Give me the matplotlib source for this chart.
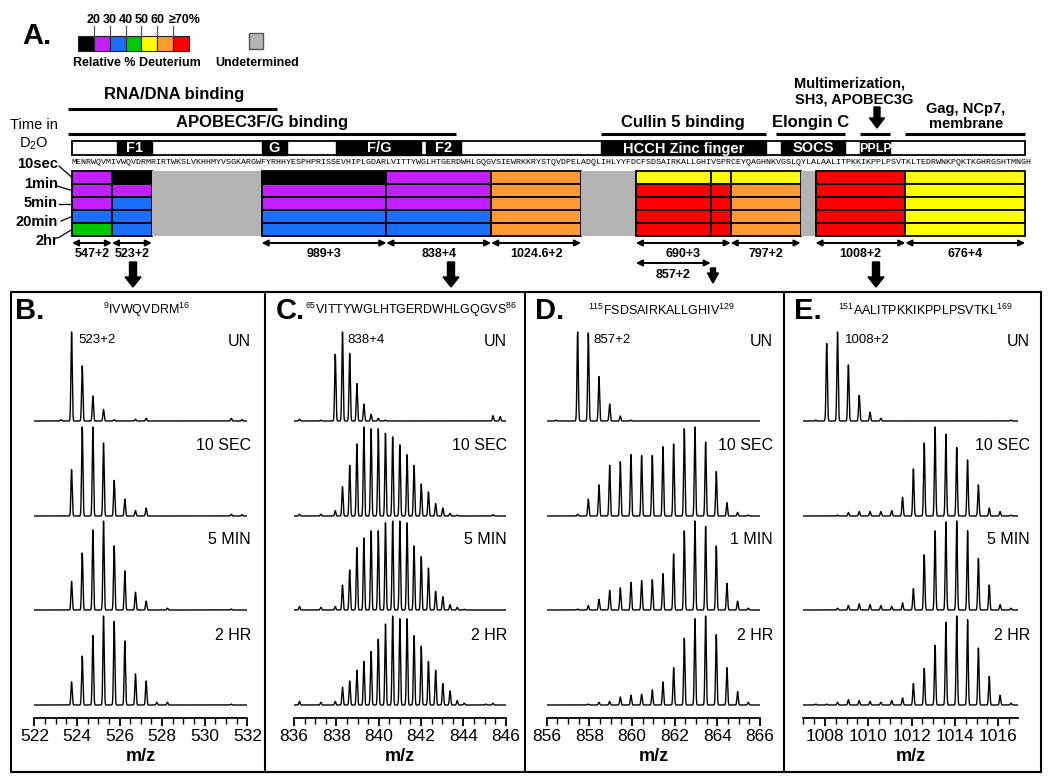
import numpy as np
import matplotlib
matplotlib.use('Agg')
import matplotlib.pyplot as plt
from matplotlib.patches import Rectangle, FancyArrow

plt.rcParams['font.family'] = ['Liberation Sans', 'DejaVu Sans']
plt.rcParams['mathtext.fontset'] = 'custom'
plt.rcParams['mathtext.rm'] = 'Liberation Sans'

# ---------------- data ----------------
sequence = ("MENRWQVMIVWQVDRMRIRTWKSLVKHHMYVSGKARGWFYRHHYESPHPRISSEVHIPLGDARL"
            "VITTYWGLHTGERDWHLGQGVSIEWRKKRYSTQVDPELADQLIHLYYFDCFSDSAIRKALLGHIVS"
            "PRCEYQAGHNKVGSLQYLALAALITPKKIKPPLPSVTKLTEDRWNKPQKTKGHRGSHTMNGH")

level_colors = ['#000000', '#C21EFF', '#1C6EFF', '#00C800', '#FFFF00', '#FF9A33', '#FF0000']
level_ticks = ['20', '30', '40', '50', '60', '≥70%']
undet_color = '#B3B3B3'

times = ['10sec', '1min', '5min', '20min', '2hr']

# heatmap blocks: residue range and deuterium level per time (None = undetermined)
blk_start = [1, 9, 17, 39, 64, 85, 103, 114, 129, 133, 147, 150, 168]
blk_end = [8, 16, 38, 63, 84, 102, 113, 128, 132, 146, 149, 167, 191]
blk_levels = [
    [1, 1, 1, 2, 3],
    [0, 1, 2, 2, 2],
    None,
    [0, 1, 1, 2, 2],
    [1, 1, 1, 2, 2],
    [5, 5, 5, 5, 5],
    None,
    [4, 6, 6, 6, 6],
    [4, 6, 6, 6, 6],
    [4, 5, 5, 5, 5],
    None,
    [6, 6, 6, 6, 6],
    [4, 4, 4, 4, 4],
]

pep_labels = ['547+2', '523+2', '989+3', '838+4', '1024.6+2', '690+3', '797+2', '1008+2', '676+4']
pep_start = [1, 9, 39, 64, 85, 114, 133, 150, 168]
pep_end = [8, 16, 63, 84, 102, 132, 146, 167, 191]

dom_names = ['F1', 'G', 'F/G', 'F2', 'HCCH Zinc finger', 'SOCS', 'PPLP']
dom_start = [10, 39, 54, 72, 107, 143, 159]
dom_end = [16, 43, 70, 78, 139, 155, 164]

func_names = ['APOBEC3F/G binding', 'Cullin 5 binding', 'Elongin C']
func_start = [1, 107, 142]
func_end = [77, 139, 155]

# spectra: peak m/z and relative heights
b_mz = [523.25, 523.75, 524.25, 524.75, 525.25, 525.75, 526.25, 526.75, 527.25, 527.75, 528.25, 531.25, 531.75]
b_un = [0.015, 1.0, 0.62, 0.28, 0.13, 0.015, 0.0, 0.02, 0.03, 0, 0, 0.03, 0.015]
b_10s = [0, 0.52, 1.0, 1.0, 0.82, 0.40, 0.19, 0.06, 0.09, 0, 0, 0.02, 0.015]
b_5m = [0, 0.32, 0.64, 0.90, 1.0, 0.72, 0.44, 0.20, 0.10, 0, 0.02, 0.01, 0]
b_2h = [0, 0.26, 0.55, 0.78, 1.0, 0.94, 0.72, 0.35, 0.27, 0.03, 0.03, 0.01, 0]

c_mz = [836.26, 836.60, 836.93, 837.27, 837.61, 837.95, 838.29, 838.63, 838.97, 839.30,
        839.64, 839.98, 840.32, 840.66, 841.00, 841.34, 841.67, 842.01, 842.35, 842.69,
        843.03, 843.37, 843.71, 844.04, 844.38, 844.72, 845.06, 845.40, 845.74]
c_un = [0.02, 0, 0, 0.01, 0, 0.75, 1.0, 0.76, 0.42, 0.19, 0.075, 0.03, 0.01, 0, 0,
        0, 0, 0, 0, 0, 0, 0, 0, 0, 0, 0, 0, 0.06, 0.05]
c_10s = [0.02, 0, 0, 0.02, 0, 0.06, 0.33, 0.57, 0.81, 1.0, 0.98, 0.98, 0.93, 0.89, 0.80,
         0.69, 0.57, 0.36, 0.27, 0.14, 0.09, 0.03, 0.01, 0, 0, 0, 0, 0.015, 0]
c_5m = [0.04, 0, 0, 0.03, 0, 0.04, 0.28, 0.45, 0.70, 0.81, 0.89, 0.89, 0.98, 1.0, 1.0,
        0.98, 0.72, 0.60, 0.47, 0.21, 0.15, 0.06, 0.03, 0.01, 0, 0, 0, 0, 0]
c_2h = [0.04, 0, 0, 0.03, 0, 0.04, 0.20, 0.27, 0.39, 0.49, 0.60, 0.74, 0.91, 1.0, 0.97,
        0.97, 0.78, 0.66, 0.49, 0.39, 0.24, 0.16, 0.05, 0.02, 0, 0, 0.01, 0.02, 0]

d_mz = [856.45, 856.95, 857.45, 857.95, 858.45, 858.95, 859.45, 859.95, 860.45, 860.95,
        861.45, 861.95, 862.45, 862.95, 863.45, 863.95, 864.45, 864.95, 865.45]
d_un = [0.01, 0, 1.0, 0.99, 0.50, 0.19, 0.056, 0.01, 0, 0, 0, 0, 0, 0, 0, 0, 0, 0, 0]
d_10s = [0, 0, 0.02, 0.19, 0.35, 0.57, 0.61, 0.69, 0.68, 0.68, 0.78, 0.81, 0.98, 1.0,
         0.83, 0.50, 0.15, 0.04, 0.01]
d_1m = [0, 0, 0.01, 0.05, 0.12, 0.22, 0.25, 0.31, 0.33, 0.34, 0.41, 0.63, 0.89, 1.0,
        0.94, 0.72, 0.30, 0.10, 0.02]
d_2h = [0, 0, 0, 0.01, 0.03, 0.04, 0.09, 0.11, 0.12, 0.17, 0.26, 0.42, 0.75, 0.97,
        1.0, 0.79, 0.42, 0.15, 0.03]

e_mz = [1007.58, 1008.08, 1008.58, 1009.08, 1009.58, 1010.08, 1010.58, 1011.08, 1011.58,
        1012.08, 1012.58, 1013.08, 1013.58, 1014.08, 1014.58, 1015.08, 1015.58, 1016.08, 1016.58]
e_un = [0.01, 0.87, 1.0, 0.63, 0.29, 0.10, 0.03, 0, 0, 0, 0, 0, 0, 0, 0, 0, 0, 0, 0.01]
e_10s = [0, 0, 0.01, 0.04, 0.05, 0.05, 0.05, 0.06, 0.21, 0.53, 0.82, 1.0, 0.92, 0.77,
         0.63, 0.35, 0.09, 0.05, 0.01]
e_5m = [0, 0, 0.02, 0.05, 0.07, 0.06, 0.05, 0.04, 0.08, 0.24, 0.62, 0.89, 0.99, 1.0,
        0.89, 0.58, 0.28, 0.06, 0.02]
e_2h = [0.01, 0.01, 0.03, 0.06, 0.05, 0.04, 0.03, 0.05, 0.08, 0.24, 0.41, 0.67, 0.93,
        1.0, 0.96, 0.64, 0.32, 0.11, 0.02]

# ---------------- figure ----------------
fig = plt.figure(figsize=(10.5, 7.83), dpi=100)
ax = fig.add_axes([0, 0, 1, 1])
ax.set_xlim(0, 1050)
ax.set_ylim(783, 0)
ax.axis('off')

X0, W = 72, 4.99


def rx0(r):
    return X0 + (r - 1) * W


def rx1(r):
    return X0 + r * W


# legend
ax.text(22, 36, 'A.', fontsize=21, fontweight='bold', va='center', ha='left')
lx, ly, cw, ch = 78, 36, 15.86, 15
for i, c in enumerate(level_colors):
    ax.add_patch(Rectangle((lx + i * cw, ly), cw, ch, fc=c, ec='#222222', lw=0.8))
for i, t in enumerate(level_ticks):
    bx = lx + (i + 1) * cw
    ax.plot([bx, bx], [26, ly], color='#555555', lw=0.9)
    if i == len(level_ticks) - 1:
        ax.text(bx - 4, 20, t, fontsize=9, fontweight='bold', ha='left', va='center')
    else:
        ax.text(bx, 20, t, fontsize=9, fontweight='bold', ha='center', va='center')
ax.text(137, 63, 'Relative % Deuterium', fontsize=9, fontweight='bold', ha='center', va='center')
ax.add_patch(Rectangle((249, 33), 14, 16, fc=undet_color, ec='#555555', lw=1))
ax.text(257, 63, 'Undetermined', fontsize=9, fontweight='bold', ha='center', va='center')

# functional regions
ax.text((rx0(1) + rx1(41)) / 2, 95, 'RNA/DNA binding', fontsize=12, fontweight='bold', ha='center', va='center')
ax.plot([68, rx1(41)], [109, 109], color='k', lw=2.2, solid_capstyle='butt')
for name, s, e in zip(func_names, func_start, func_end):
    x_a = 68 if s == 1 else rx0(s)
    ax.plot([x_a, rx1(e)], [134, 134], color='k', lw=2.2, solid_capstyle='butt')
    ax.text((x_a + rx1(e)) / 2, 123, name, fontsize=12, fontweight='bold', ha='center', va='center')
ax.text(850, 83, 'Multimerization,', fontsize=10.5, fontweight='bold', ha='center', va='center')
ax.text(854, 100, 'SH3, APOBEC3G', fontsize=10.5, fontweight='bold', ha='center', va='center')
ax.add_patch(FancyArrow(877, 107, 0, 21, width=6, head_width=15, head_length=10,
                        length_includes_head=True, color='k'))
ax.plot([rx0(159), rx1(164)], [134, 134], color='k', lw=2.2, solid_capstyle='butt')
ax.text(966, 109, 'Gag, NCp7,', fontsize=10.5, fontweight='bold', ha='center', va='center')
ax.text(966, 124, 'membrane', fontsize=10.5, fontweight='bold', ha='center', va='center')
ax.plot([rx0(168), rx1(191)], [134, 134], color='k', lw=2.2, solid_capstyle='butt')

# domain bar
ax.text(34, 125, 'Time in', fontsize=10.5, ha='center', va='center')
ax.text(34, 144, r'D$_{\mathrm{2}}$O', fontsize=10.5, ha='center', va='center')
ax.add_patch(Rectangle((X0, 141), rx1(191) - X0, 14, fc='white', ec='k', lw=1.3))
for name, s, e in zip(dom_names, dom_start, dom_end):
    ax.add_patch(Rectangle((rx0(s), 141), rx1(e) - rx0(s), 14, fc='k', ec='k', lw=1.0))
    fs = 9 if name == 'PPLP' else 10.5
    ax.text((rx0(s) + rx1(e)) / 2, 148.5, name, color='white', fontsize=fs,
            fontweight='bold', ha='center', va='center')

ax.text(X0, 162, sequence, family='Liberation Mono', fontsize=5.99, ha='left', va='center')

# heatmap
row_top, row_h = 171, 13
for s, e, lev in zip(blk_start, blk_end, blk_levels):
    x_a, x_b = rx0(s), rx1(e)
    if lev is None:
        ax.add_patch(Rectangle((x_a, row_top), x_b - x_a, row_h * 5, fc=undet_color, ec='none'))
        continue
    for j, lv in enumerate(lev):
        ax.add_patch(Rectangle((x_a, row_top + j * row_h), x_b - x_a, row_h,
                               fc=level_colors[lv], ec='k', lw=1.3))

# time labels with leader lines
lab_y = [164, 184, 203, 222, 241]
lead_from = [(59, 166), (57, 186), (59, 203.5), (61, 221), (58, 238)]
for j, t in enumerate(times):
    ax.text(58, lab_y[j], t, fontsize=10.5, fontweight='bold', ha='right', va='center')
    ax.plot([lead_from[j][0], X0], [lead_from[j][1], row_top + (j + 0.5) * row_h], color='k', lw=0.9)

# peptide arrows
arr = dict(arrowstyle='<|-|>', lw=1.4, color='k', mutation_scale=9, shrinkA=0, shrinkB=0)
for lab, s, e in zip(pep_labels, pep_start, pep_end):
    ax.annotate('', xy=(rx1(e), 243), xytext=(rx0(s), 243), arrowprops=arr)
    ax.text((rx0(s) + rx1(e)) / 2, 254, lab, fontsize=9, fontweight='bold', ha='center', va='center')
ax.annotate('', xy=(rx1(128), 263), xytext=(rx0(114), 263), arrowprops=arr)
ax.text((rx0(114) + rx1(128)) / 2, 275, '857+2', fontsize=9, fontweight='bold', ha='center', va='center')

for xa, y_a, ln, wd, hw in [(133, 262, 25, 7, 16), (451, 262, 25, 7, 16),
                            (713, 268, 15, 5, 11), (876, 262, 25, 7, 16)]:
    ax.add_patch(FancyArrow(xa, y_a, 0, ln, width=wd, head_width=hw, head_length=10,
                            length_includes_head=True, color='k'))

# panel boxes
ax.add_patch(Rectangle((11, 292), 1030, 480, fc='none', ec='k', lw=1.5))
for xv in [265, 525, 784]:
    ax.plot([xv, xv], [292, 772], color='k', lw=1.5)

# spectra panels
panels = [
    ('B.', r'$^{\mathrm{9}}$IVWQVDRM$^{\mathrm{16}}$', '523+2', (522, 532), 34.3, 21.3,
     b_mz, [b_un, b_10s, b_5m, b_2h], ['UN', '10 SEC', '5 MIN', '2 HR'], 15, 103, 78, 251),
    ('C.', r'$^{\mathrm{65}}$VITTYWGLHTGERDWHLGQGVS$^{\mathrm{86}}$', '838+4', (836, 846), 294.0, 21.17,
     c_mz, [c_un, c_10s, c_5m, c_2h], ['UN', '10 SEC', '5 MIN', '2 HR'], 276, 305, 347, 507),
    ('D.', r'$^{\mathrm{115}}$FSDSAIRKALLGHIV$^{\mathrm{129}}$', '857+2', (856, 866), 546.7, 21.33,
     d_mz, [d_un, d_10s, d_1m, d_2h], ['UN', '10 SEC', '1 MIN', '2 HR'], 535, 588, 593, 773),
    ('E.', r'$^{\mathrm{151}}$AALITPKKIKPPLPSVTKL$^{\mathrm{169}}$', '1008+2', (1007, 1016.9), 803.3, 21.67,
     e_mz, [e_un, e_10s, e_5m, e_2h], ['UN', '10 SEC', '5 MIN', '2 HR'], 794, 838, 845, 1030),
]
bases = [297, 202, 108, 13]
label_y = [342, 446, 540, 635]
for (let, title, plab, (lo, hi), left, ppu, mz, traces, tlabels,
     let_x, title_x, plab_x, right_x) in panels:
    width = (hi - lo) * ppu
    axp = fig.add_axes([left / 1050, (783 - 718) / 783, width / 1050, 398 / 783])
    axp.set_xlim(lo, hi)
    axp.set_ylim(0, 398)
    axp.patch.set_alpha(0)
    for sp in ['top', 'right', 'left']:
        axp.spines[sp].set_visible(False)
    axp.spines['bottom'].set_linewidth(1.3)
    axp.set_yticks([])
    first = int(np.ceil(lo / 2.0) * 2)
    axp.set_xticks(np.arange(first, hi + 0.01, 2))
    axp.set_xticks(np.arange(lo, hi + 0.01, 0.5), minor=True)
    axp.tick_params(axis='x', which='major', length=6, width=1.3, labelsize=12.5, pad=2)
    axp.tick_params(axis='x', which='minor', length=4, width=1.0)
    axp.set_xlabel('m/z', fontsize=13, fontweight='bold', labelpad=3)
    xs = np.linspace(lo, hi, 4000)
    for base, h in zip(bases, traces):
        ys = np.zeros_like(xs)
        for m, a in zip(mz, h):
            ys += a * np.exp(-0.5 * ((xs - m) / 0.03) ** 2)
        axp.plot(xs, base + 89 * ys, color='k', lw=1.0)

    ax.text(let_x, 311, let, fontsize=21, fontweight='bold', ha='left', va='center')
    ax.text(title_x, 310, title, fontsize=9, ha='left', va='center')
    ax.text(plab_x, 340, plab, fontsize=9.5, ha='left', va='center')
    for ty, tl in zip(label_y, tlabels):
        ax.text(right_x, ty, tl, fontsize=11.5, ha='right', va='center')

fig.savefig('out.png', dpi=100)
